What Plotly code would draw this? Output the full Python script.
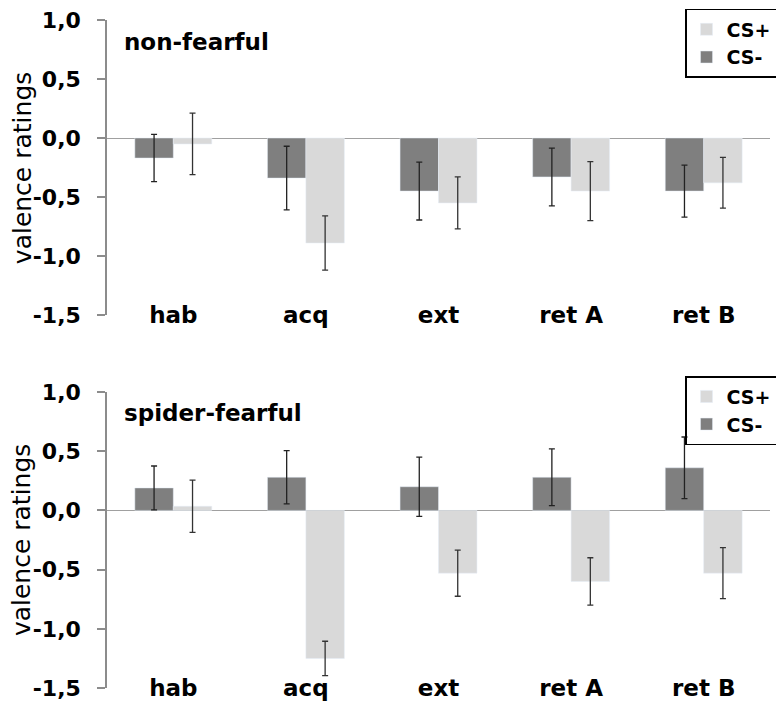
import plotly.graph_objects as go

categories = ["hab", "acq", "ext", "ret A", "ret B"]

# non-fearful panel
nf_cs_minus = [-0.17, -0.34, -0.45, -0.33, -0.45]
nf_cs_minus_err = [0.20, 0.27, 0.245, 0.245, 0.22]
nf_cs_plus = [-0.05, -0.89, -0.55, -0.45, -0.38]
nf_cs_plus_err = [0.26, 0.23, 0.22, 0.25, 0.215]

# spider-fearful panel
sf_cs_minus = [0.19, 0.28, 0.20, 0.28, 0.36]
sf_cs_minus_err = [0.185, 0.225, 0.25, 0.24, 0.26]
sf_cs_plus = [0.035, -1.25, -0.53, -0.60, -0.53]
sf_cs_plus_err = [0.22, 0.145, 0.195, 0.20, 0.215]

ytick_vals = [-1.5, -1.0, -0.5, 0.0, 0.5, 1.0]
ytick_text = ["-1,5", "-1,0", "-0,5", "0,0", "0,5", "1,0"]

panel_titles = ["non-fearful", "spider-fearful"]
y_title = "valence ratings"
series_names = ["CS-", "CS+"]

DARK = "#7f7f7f"
LIGHT = "#d9d9d9"
FONT = "DejaVu Sans"

fig = go.Figure()

def add_panel(xa, ya, legend, minus, minus_err, plus, plus_err):
    fig.add_trace(go.Bar(
        x=categories, y=minus, name=series_names[0], marker_color=DARK,
        error_y=dict(type="data", array=minus_err, color="#222222", thickness=1.3, width=3),
        xaxis=xa, yaxis=ya, legend=legend, offsetgroup="a"))
    fig.add_trace(go.Bar(
        x=categories, y=plus, name=series_names[1], marker_color=LIGHT,
        error_y=dict(type="data", array=plus_err, color="#333333", thickness=1.3, width=3),
        xaxis=xa, yaxis=ya, legend=legend, offsetgroup="b"))

add_panel("x", "y", "legend", nf_cs_minus, nf_cs_minus_err, nf_cs_plus, nf_cs_plus_err)
add_panel("x2", "y2", "legend2", sf_cs_minus, sf_cs_minus_err, sf_cs_plus, sf_cs_plus_err)

xaxis_common = dict(
    showline=False, ticks="", showgrid=False, zeroline=False,
    tickfont=dict(family=FONT, size=23, color="black", weight="bold"),
    ticklabelstandoff=-16, automargin=False, ticklabeloverflow="allow",
)
yaxis_common = dict(
    range=[-1.5, 1.0], tickvals=ytick_vals, ticktext=ytick_text,
    showline=True, linecolor="#8c8c8c", linewidth=1.5,
    ticks="outside", ticklen=8, tickcolor="#8c8c8c", tickwidth=1.5,
    showgrid=False, zeroline=True, zerolinecolor="#a0a0a0", zerolinewidth=1.2,
    tickfont=dict(family=FONT, size=22, color="black", weight="bold"),
    ticklabelstandoff=12, ticklabeloverflow="allow",
    automargin=False,
)

legend_common = dict(
    xref="paper", yref="paper", x=1.0106, xanchor="right", yanchor="top",
    bordercolor="black", borderwidth=1.5, bgcolor="rgba(255,255,255,0)",
    font=dict(family=FONT, size=19, color="black", weight="bold"),
    traceorder="reversed", itemwidth=30, tracegroupgap=0,
)

ann_font_title = dict(family=FONT, size=23, color="black", weight="bold")
ann_font_y = dict(family=FONT, size=25, color="black")

fig.update_layout(
    width=776, height=702,
    margin=dict(l=99, r=14, t=12, b=22, autoexpand=False),
    paper_bgcolor="white", plot_bgcolor="white",
    barmode="group", bargap=0.42, bargroupgap=0,
    showlegend=True,
    xaxis=dict(domain=[0, 1], anchor="y", **xaxis_common),
    yaxis=dict(domain=[0.5584, 1.0], anchor="x", **yaxis_common),
    xaxis2=dict(domain=[0, 1], anchor="y2", **xaxis_common),
    yaxis2=dict(domain=[0.0, 0.4431], anchor="x2", **yaxis_common),
    legend=dict(y=1.0165, **legend_common),
    legend2=dict(y=0.467, **legend_common),
    annotations=[
        dict(text=panel_titles[0], xref="paper", yref="paper", x=0.0226, y=0.967,
             xanchor="left", yanchor="middle", showarrow=False, font=ann_font_title),
        dict(text=panel_titles[1], xref="paper", yref="paper", x=0.0226, y=0.4117,
             xanchor="left", yanchor="middle", showarrow=False, font=ann_font_title),
        dict(text=y_title, xref="paper", yref="paper", x=-0.128, y=0.7784,
             xanchor="center", yanchor="middle", textangle=-90, showarrow=False, font=ann_font_y),
        dict(text=y_title, xref="paper", yref="paper", x=-0.128, y=0.2216,
             xanchor="center", yanchor="middle", textangle=-90, showarrow=False, font=ann_font_y),
    ],
)

fig.write_html("out.html")
